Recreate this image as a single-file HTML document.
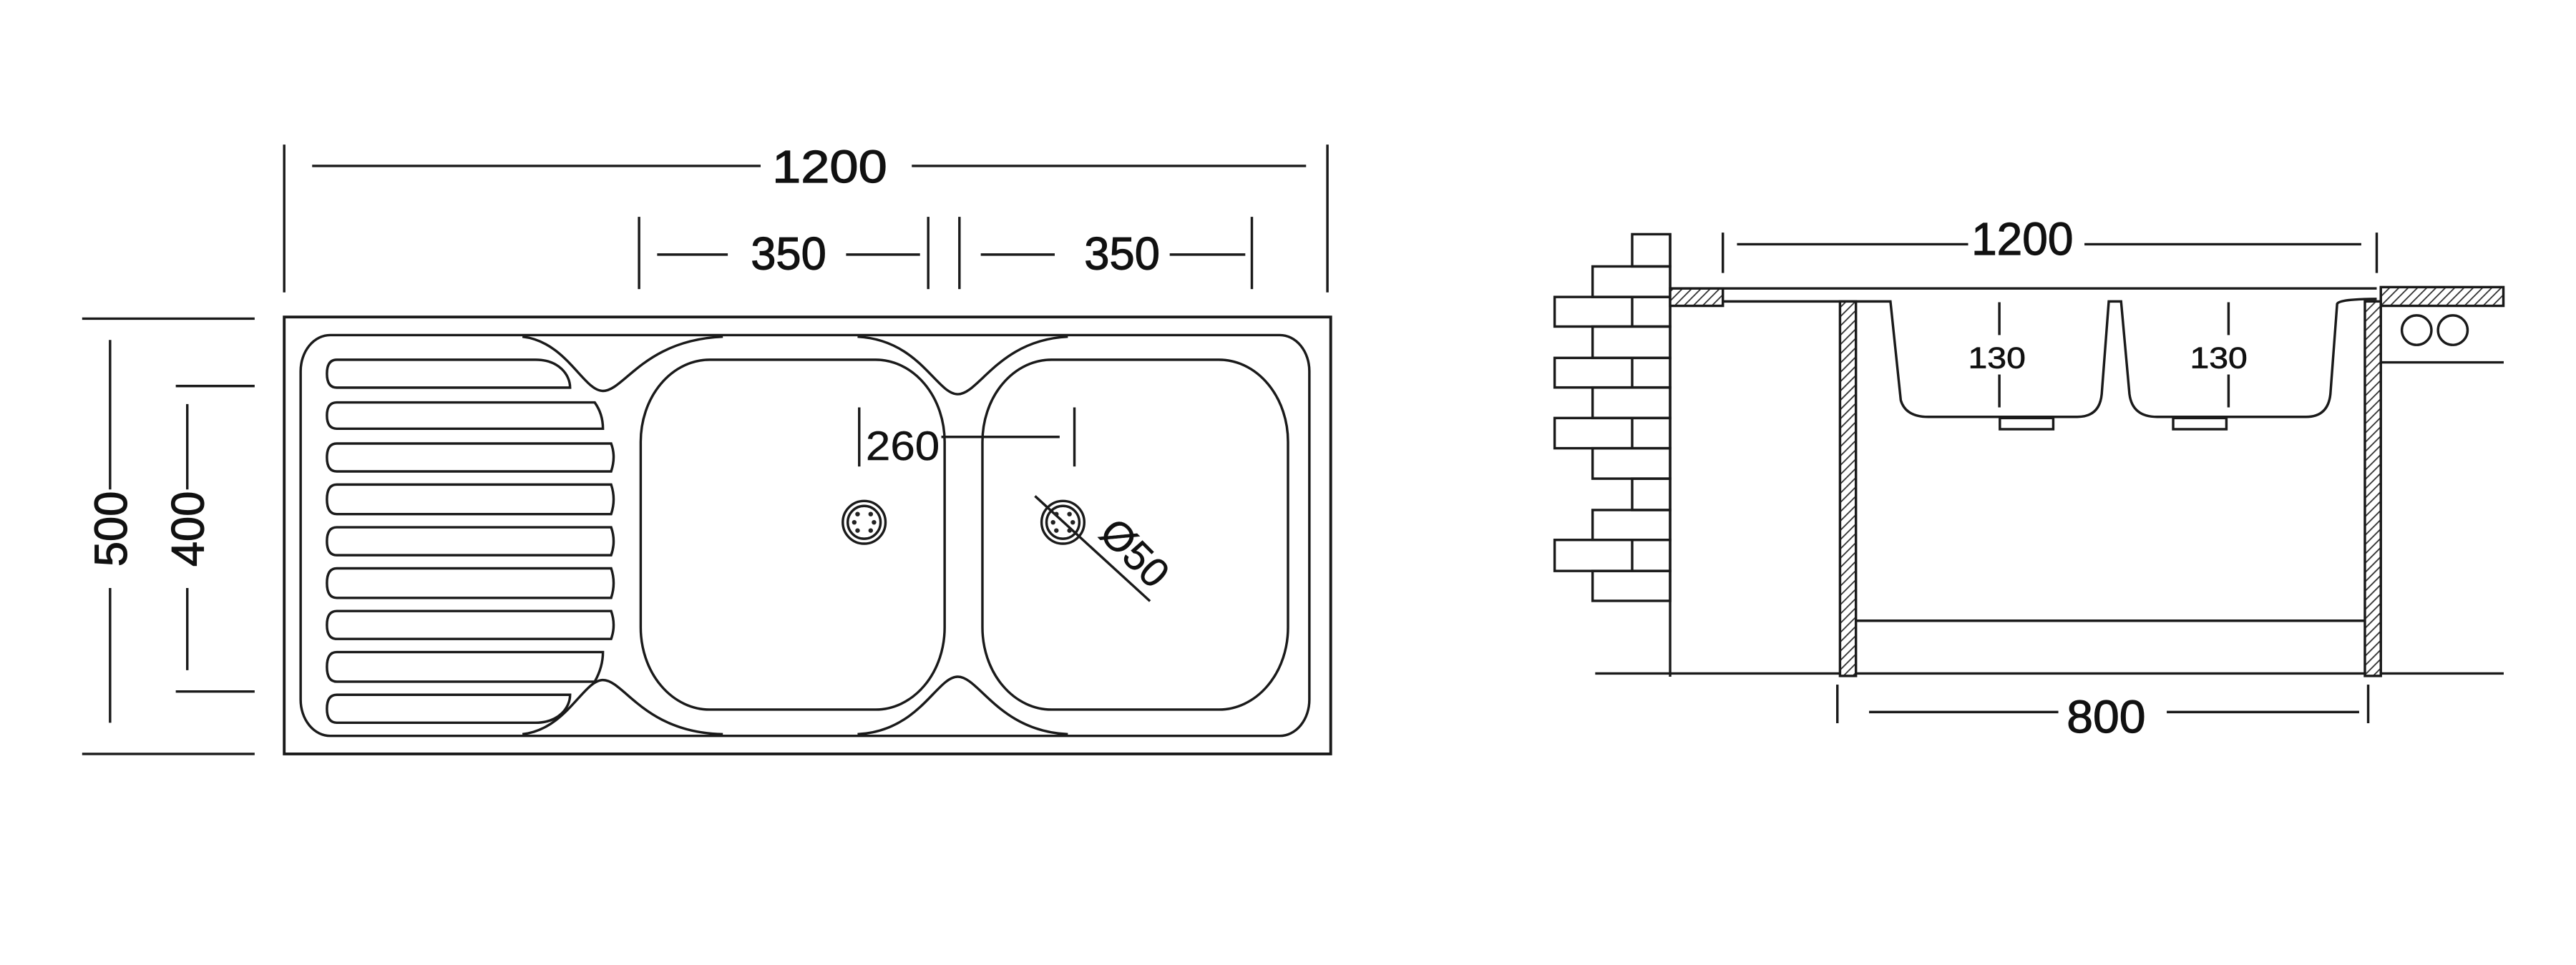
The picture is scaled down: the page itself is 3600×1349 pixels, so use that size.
<!DOCTYPE html>
<html><head><meta charset="utf-8"><style>
html,body{margin:0;padding:0;background:#fff;}
svg{display:block;}
text{font-family:"Liberation Sans",sans-serif;fill:#111;stroke:#111;stroke-width:0.5;}
</style></head><body>
<svg width="3600" height="1349" viewBox="0 0 1568 587.5" preserveAspectRatio="none" xmlns="http://www.w3.org/2000/svg">
<defs>
<pattern id="h" width="4" height="4" patternUnits="userSpaceOnUse" patternTransform="rotate(45)">
<rect width="4" height="4" fill="#fff"/><line x1="0" y1="0" x2="0" y2="4" stroke="#333" stroke-width="1.6"/>
</pattern>
</defs>
<g fill="none" stroke="#1a1a1a" stroke-width="1.5">
<!-- LEFT: dims -->
<line x1="173" y1="88" x2="173" y2="178"/>
<line x1="808" y1="88" x2="808" y2="178"/>
<line x1="190" y1="101" x2="463" y2="101"/>
<line x1="555" y1="101" x2="795" y2="101"/>
<line x1="389" y1="132" x2="389" y2="176"/>
<line x1="565" y1="132" x2="565" y2="176"/>
<line x1="584" y1="132" x2="584" y2="176"/>
<line x1="762" y1="132" x2="762" y2="176"/>
<line x1="400" y1="155" x2="443" y2="155"/>
<line x1="515" y1="155" x2="560" y2="155"/>
<line x1="597" y1="155" x2="642" y2="155"/>
<line x1="712" y1="155" x2="758" y2="155"/>
<line x1="50" y1="194" x2="155" y2="194"/>
<line x1="50" y1="459" x2="155" y2="459"/>
<line x1="67" y1="207" x2="67" y2="298"/>
<line x1="67" y1="358" x2="67" y2="440"/>
<line x1="107" y1="235" x2="155" y2="235"/>
<line x1="107" y1="421" x2="155" y2="421"/>
<line x1="114" y1="246" x2="114" y2="298"/>
<line x1="114" y1="358" x2="114" y2="408"/>
<!-- sink -->
<rect x="173" y="193" width="637" height="266" stroke-width="1.7"/>
<rect x="183" y="204" width="614" height="244" rx="18" ry="22"/>
<path d="M318 205 C345 208,355 238,367 238 C380 238,392 207,440 205 M522 205 C560 207,570 240,583 240 C596 240,608 207,650 205"/>
<path d="M318 447 C345 444,355 414,367 414 C380 414,392 446,440 447 M522 447 C560 445,570 412,583 412 C596 412,608 445,650 447"/>
<rect x="390" y="219" width="185" height="213" rx="42" ry="50"/>
<rect x="598" y="219" width="186" height="213" rx="42" ry="50"/>
<!-- slots -->
<path d="M205 219 H326 C340 219,347 228,347 236 H205 Q199 236,199 227.5 Q199 219,205 219Z"/>
<path d="M205 245 H362 Q367 252,367 261 H205 Q199 261,199 253 Q199 245,205 245Z"/>
<path d="M205 270 H372 Q375 278,372 287 H205 Q199 287,199 278.5 Q199 270,205 270Z"/>
<path d="M205 295 H372 Q375 304,372 313 H205 Q199 313,199 304 Q199 295,205 295Z"/>
<path d="M205 321 H372 Q375 329.5,372 338 H205 Q199 338,199 329.5 Q199 321,205 321Z"/>
<path d="M205 346 H372 Q375 355,372 364 H205 Q199 364,199 355 Q199 346,205 346Z"/>
<path d="M205 372 H372 Q375 380.5,372 389 H205 Q199 389,199 380.5 Q199 372,205 372Z"/>
<path d="M205 397 H367 Q367 406,362 415 H205 Q199 415,199 406 Q199 397,205 397Z"/>
<path d="M205 423 H347 C347 431,340 440,326 440 H205 Q199 440,199 431.5 Q199 423,205 423Z"/>
<!-- drains -->
<circle cx="526" cy="318" r="13"/><circle cx="526" cy="318" r="10"/>
<circle cx="647" cy="318" r="13"/><circle cx="647" cy="318" r="10"/>
<line x1="630" y1="302" x2="700" y2="366"/>
<line x1="523" y1="248" x2="523" y2="284"/>
<line x1="654" y1="248" x2="654" y2="284"/>
<line x1="573" y1="266" x2="645" y2="266"/>
</g>
<g fill="#222">
<circle cx="522" cy="313" r="1.4"/><circle cx="530" cy="313" r="1.4"/><circle cx="520" cy="318" r="1.4"/><circle cx="532" cy="318" r="1.4"/><circle cx="522" cy="323" r="1.4"/><circle cx="530" cy="323" r="1.4"/>
<circle cx="643" cy="313" r="1.4"/><circle cx="651" cy="313" r="1.4"/><circle cx="641" cy="318" r="1.4"/><circle cx="653" cy="318" r="1.4"/><circle cx="643" cy="323" r="1.4"/><circle cx="651" cy="323" r="1.4"/>
</g>
<g font-size="28">
<text x="470" y="111" textLength="70" lengthAdjust="spacingAndGlyphs">1200</text>
<text x="457" y="164" textLength="46" lengthAdjust="spacingAndGlyphs">350</text>
<text x="660" y="164" textLength="46" lengthAdjust="spacingAndGlyphs">350</text>
<text transform="translate(77,322) rotate(-90)" text-anchor="middle" textLength="46" lengthAdjust="spacingAndGlyphs">500</text>
<text transform="translate(124,322) rotate(-90)" text-anchor="middle" textLength="46" lengthAdjust="spacingAndGlyphs">400</text>
<text x="527" y="280" font-size="25" textLength="45" lengthAdjust="spacingAndGlyphs" style="stroke-width:0.2">260</text>
<text transform="translate(668,326) rotate(45)" font-size="25" style="stroke-width:0.2">Ø50</text>
</g>
<!-- RIGHT -->
<g fill="none" stroke="#1a1a1a" stroke-width="1.5">
<line x1="1016.6" y1="142" x2="1016.6" y2="412"/>
<rect x="993.5" y="142.6" width="23.1" height="19.6"/>
<rect x="969.4" y="162.2" width="47.2" height="18.6"/>
<rect x="946.3" y="180.8" width="70.3" height="18"/><line x1="993.5" y1="180.8" x2="993.5" y2="198.8"/>
<rect x="969.4" y="198.8" width="47.2" height="19.1"/>
<rect x="946.3" y="217.9" width="70.3" height="18"/><line x1="993.5" y1="217.9" x2="993.5" y2="235.9"/>
<rect x="969.4" y="235.9" width="47.2" height="18.6"/>
<rect x="946.3" y="254.5" width="70.3" height="18.4"/><line x1="993.5" y1="254.5" x2="993.5" y2="272.9"/>
<rect x="969.4" y="272.9" width="47.2" height="18.5"/>
<rect x="993.5" y="291.4" width="23.1" height="19.1"/>
<rect x="969.4" y="310.5" width="47.2" height="18.2"/>
<rect x="946.3" y="328.7" width="70.3" height="18.9"/><line x1="993.5" y1="328.7" x2="993.5" y2="347.6"/>
<rect x="969.4" y="347.6" width="47.2" height="18.2"/>
<line x1="971" y1="410" x2="1524" y2="410"/>
<line x1="1048.7" y1="175.6" x2="1446.7" y2="175.6"/>
<rect x="1016.6" y="175.6" width="32.1" height="10.6" fill="url(#h)"/>
<rect x="1449.2" y="174.8" width="74.6" height="11.4" fill="url(#h)"/>
<line x1="1449" y1="220.6" x2="1524" y2="220.6"/>
<circle cx="1471" cy="201" r="9"/><circle cx="1493" cy="201" r="9"/>
<path d="M1048.7 183.5 H1148.6 L1150.7 183.5 L1157 243.7 Q1160 253.8,1173.8 253.8 H1264.4 Q1278 253.8,1279.3 240 L1283.6 183.5 H1291.1 L1296.2 240 Q1298 253.8,1313 253.8 H1403.7 Q1417 253.8,1418.5 240 L1422.6 185 Q1424 182,1446.7 182"/>
<rect x="1217.3" y="254.5" width="32.5" height="6.8"/>
<rect x="1322.8" y="254.5" width="32.4" height="6.8"/>
<line x1="1217" y1="184" x2="1217" y2="248"/>
<line x1="1356.5" y1="184" x2="1356.5" y2="248"/>
<rect x="1120" y="183.5" width="9.7" height="228" fill="url(#h)"/>
<rect x="1439.5" y="183.5" width="9.7" height="228" fill="url(#h)"/>
<line x1="1129.7" y1="377.9" x2="1439.5" y2="377.9"/>
<line x1="1048.7" y1="141.6" x2="1048.7" y2="166.2"/>
<line x1="1446.7" y1="141.6" x2="1446.7" y2="166.2"/>
<line x1="1057.3" y1="148.7" x2="1198" y2="148.7"/>
<line x1="1268.8" y1="148.7" x2="1437.3" y2="148.7"/>
<line x1="1118.4" y1="416.8" x2="1118.4" y2="440.3"/>
<line x1="1441.5" y1="416.8" x2="1441.5" y2="440.3"/>
<line x1="1137.7" y1="433.5" x2="1252.9" y2="433.5"/>
<line x1="1318.9" y1="433.5" x2="1436" y2="433.5"/>
</g>
<rect x="1196" y="204" width="42" height="24" fill="#fff"/>
<rect x="1335" y="204" width="42" height="24" fill="#fff"/>
<g font-size="28">
<text x="1200" y="155" textLength="62" lengthAdjust="spacingAndGlyphs">1200</text>
<text x="1258" y="446" textLength="48" lengthAdjust="spacingAndGlyphs">800</text>
<text x="1198" y="224" font-size="18" textLength="35" lengthAdjust="spacingAndGlyphs" style="stroke-width:0.3">130</text>
<text x="1333" y="224" font-size="18" textLength="35" lengthAdjust="spacingAndGlyphs" style="stroke-width:0.3">130</text>
</g>
</svg>
</body></html>
